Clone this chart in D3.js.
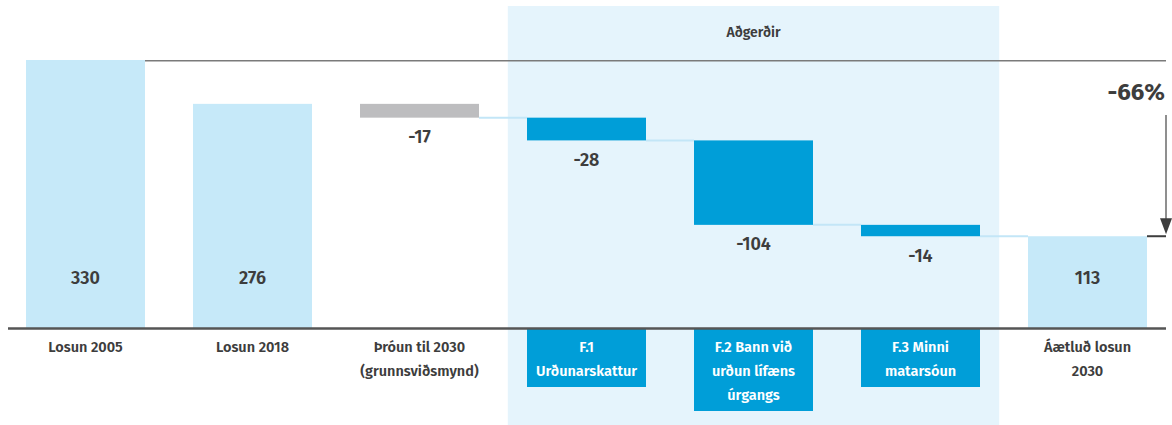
<!DOCTYPE html>
<html>
<head>
<meta charset="utf-8">
<script src="https://cdn.jsdelivr.net/npm/d3@7"></script>
<style>
  html, body { margin: 0; padding: 0; background: #fff; }
  svg { display: block; }
  text { font-family: "Fira Sans", "Open Sans", sans-serif; }
</style>
</head>
<body>
<div id="chart"></div>
<script>
// ---- data ----
const categories = ["Losun 2005", "Losun 2018", "Þróun til 2030 (grunnsviðsmynd)", "F.1 Urðunarskattur", "F.2 Bann við urðun lífæns úrgangs", "F.3 Minni matarsóun", "Áætluð losun 2030"];
const labelLines = [["Losun 2005"], ["Losun 2018"], ["Þróun til 2030", "(grunnsviðsmynd)"], ["F.1", "Urðunarskattur"], ["F.2 Bann við", "urðun lífæns", "úrgangs"], ["F.3 Minni", "matarsóun"], ["Áætluð losun", "2030"]];
const values = [330, 276, -17, -28, -104, -14, 113];
const kinds = ["total", "total", "trend", "action", "action", "action", "total"];
const valueLabels = ["330", "276", "-17", "-28", "-104", "-14", "113"];
const groupLabel = "Aðgerðir";
const changeLabel = "-66%";

// ---- layout ----
const W = 1172, H = 425;
const colors = { total: "#c6e9f9", trend: "#bdbdbf", action: "#009ed8", bg: "#e5f4fc", connector: "#c3e6f7", text: "#3d3d3d" };

const svg = d3.select("#chart").append("svg").attr("width", W).attr("height", H);

const x = d3.scaleBand().domain(categories).range([2, 1171]).paddingInner(48 / 167).paddingOuter(24 / 167);
const y = d3.scaleLinear().domain([0, 330]).range([328, 60]);

// waterfall computation
let run = 0;
const bars = values.map((v, i) => {
  let lo, hi, end;
  if (kinds[i] === "total") { lo = 0; hi = v; run = v; end = v; }
  else { const start = run; run = run + v; lo = run; hi = start; end = run; }
  return { cat: categories[i], v, kind: kinds[i], lo, hi, end, label: valueLabels[i], lines: labelLines[i] };
});

// highlighted actions region
const actionCats = categories.filter((c, i) => kinds[i] === "action");
const gap = x.step() - x.bandwidth();
const bgX0 = x(actionCats[0]) - gap * 0.4;
const bgX1 = x(actionCats[actionCats.length - 1]) + x.bandwidth() + gap * 0.4;
svg.append("rect").attr("x", bgX0).attr("y", 6).attr("width", bgX1 - bgX0).attr("height", H - 6).attr("fill", colors.bg);
svg.append("text").attr("x", (bgX0 + bgX1) / 2).attr("y", 37).attr("text-anchor", "middle")
  .attr("font-size", 14).attr("font-weight", 600).attr("fill", colors.text).text(groupLabel);

// reference line at 2005 level
const axisRight = 1166;
svg.append("line").attr("x1", x(categories[0]) + x.bandwidth()).attr("x2", axisRight)
  .attr("y1", y(values[0]) + 0.75).attr("y2", y(values[0]) + 0.75)
  .attr("stroke", "#7a7a7a").attr("stroke-width", 1.5);

// connectors
for (let i = 2; i < bars.length - 1; i++) {
  const yy = y(bars[i].end);
  svg.append("line")
    .attr("x1", x(bars[i].cat) + x.bandwidth()).attr("x2", x(bars[i + 1].cat))
    .attr("y1", yy).attr("y2", yy)
    .attr("stroke", colors.connector).attr("stroke-width", 2);
}

// bars
svg.selectAll("rect.bar").data(bars).join("rect").attr("class", "bar")
  .attr("x", d => x(d.cat)).attr("width", x.bandwidth())
  .attr("y", d => y(d.hi)).attr("height", d => y(d.lo) - y(d.hi))
  .attr("fill", d => colors[d.kind]);

// value labels
svg.selectAll("text.val").data(bars).join("text").attr("class", "val")
  .attr("x", d => x(d.cat) + x.bandwidth() / 2)
  .attr("y", d => d.kind === "total" ? y(0) - 50 : y(d.lo) + 19)
  .attr("dy", "0.35em").attr("text-anchor", "middle")
  .attr("font-size", 18).attr("font-weight", 600).attr("fill", colors.text)
  .text(d => d.label);

// category label boxes for actions
const lineH = 24;
bars.forEach(d => {
  if (d.kind === "action") {
    svg.append("rect").attr("x", x(d.cat)).attr("width", x.bandwidth())
      .attr("y", y(0) + 1).attr("height", 18 + (d.lines.length - 1) * lineH + 16)
      .attr("fill", colors.action);
  }
});

// axis line
svg.append("line").attr("x1", 8).attr("x2", axisRight).attr("y1", y(0) + 0.5).attr("y2", y(0) + 0.5)
  .attr("stroke", "#555").attr("stroke-width", 2.5);

// category labels
bars.forEach(d => {
  const t = svg.append("text").attr("text-anchor", "middle")
    .attr("font-size", 14.5).attr("font-weight", 600)
    .attr("fill", d.kind === "action" ? "#fff" : colors.text);
  d.lines.forEach((ln, j) => {
    t.append("tspan").attr("x", x(d.cat) + x.bandwidth() / 2)
      .attr("y", y(0) + 19 + j * lineH).attr("dy", "0.35em").text(ln);
  });
});

// -66% annotation
const last = bars[bars.length - 1];
svg.append("text").attr("x", axisRight - 1).attr("y", 92).attr("dy", "0.35em").attr("text-anchor", "end")
  .attr("font-size", 24).attr("font-weight", 700).attr("fill", colors.text).text(changeLabel);
svg.append("line").attr("x1", x(last.cat) + x.bandwidth()).attr("x2", axisRight)
  .attr("y1", y(last.end)).attr("y2", y(last.end)).attr("stroke", "#3d3d3d").attr("stroke-width", 2);
const arrowX = axisRight;
svg.append("line").attr("x1", arrowX).attr("x2", arrowX).attr("y1", 115).attr("y2", y(last.end) - 14)
  .attr("stroke", "#6a6a6a").attr("stroke-width", 1.5);
svg.append("path")
  .attr("d", `M${arrowX - 6},${y(last.end) - 18}L${arrowX + 6},${y(last.end) - 18}L${arrowX},${y(last.end) - 2}Z`)
  .attr("fill", "#3d3d3d");
</script>
</body>
</html>
